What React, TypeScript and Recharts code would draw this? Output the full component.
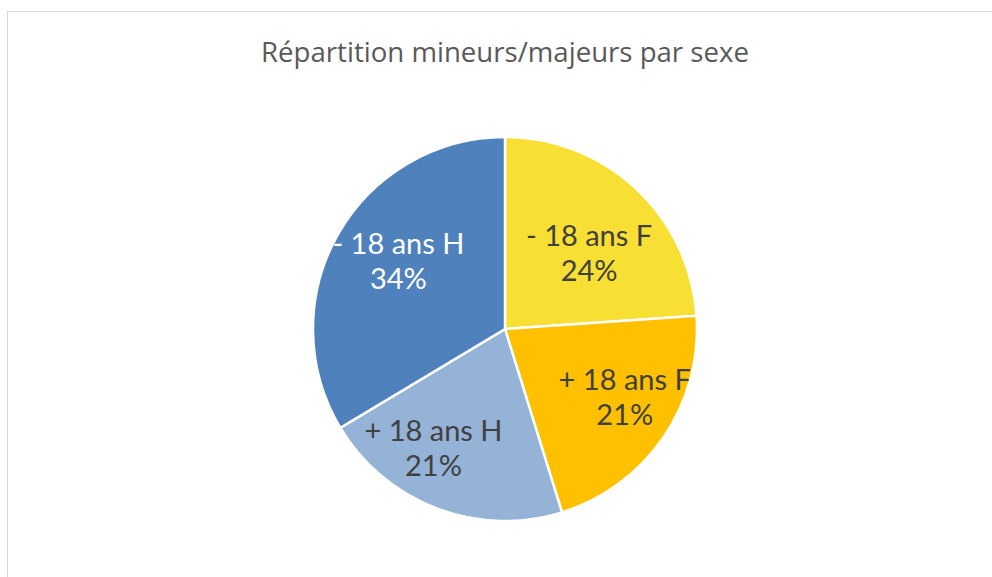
import React from 'react';
import { PieChart, Pie, Cell } from 'recharts';

// slices, clockwise from 12 o'clock
const categories = ['- 18 ans F', '+ 18 ans F', '+ 18 ans H', '- 18 ans H'];
const shares = [23.9, 21.3, 21.2, 33.6];
const colors = ['#F8DF33', '#FFC000', '#95B3D7', '#4F81BD'];
const labelColors = ['#404040', '#404040', '#404040', '#FFFFFF'];

// Excel "best fit" moves labels a bit off the mid-angle line
const labelNudge: Record<string, [number, number]> = {
  '- 18 ans F': [-5, 18],
  '+ 18 ans F': [12, -7],
  '+ 18 ans H': [-25, -4],
  '- 18 ans H': [7, -5]
};

const data = categories.map((name, i) => ({ name, value: shares[i] }));

const RAD = Math.PI / 180;

function renderLabel(props: any) {
  const { cx, cy, midAngle, outerRadius, percent, name, index } = props;
  const r = outerRadius * 0.68;
  const [dx, dy] = labelNudge[name] || [0, 0];
  const x = cx + r * Math.cos(-midAngle * RAD) + dx;
  const y = cy + r * Math.sin(-midAngle * RAD) + dy;
  return (
    <text
      x={x}
      y={y}
      fill={labelColors[index]}
      textAnchor="middle"
      fontFamily="Lato, 'Open Sans', sans-serif"
      fontSize={29}
    >
      <tspan x={x} y={y - 17} dominantBaseline="central">{name}</tspan>
      <tspan x={x} y={y + 18} dominantBaseline="central">{`${Math.round(percent * 100)}%`}</tspan>
    </text>
  );
}

export default function App() {
  return (
    <div style={{ position: 'absolute', left: 0, top: 0, width: 992, height: 577, background: '#fff', overflow: 'hidden' }}>
      <div
        style={{
          position: 'absolute',
          left: 7,
          top: 11,
          width: 1100,
          height: 700,
          border: '1.5px solid #D9D9D9',
          boxSizing: 'border-box'
        }}
      />
      <div
        style={{
          position: 'absolute',
          left: 0,
          top: 32,
          width: 1010,
          textAlign: 'center',
          fontFamily: "'Open Sans', sans-serif",
          fontSize: 27.6,
          color: '#595959',
          lineHeight: '38px'
        }}
      >
        Répartition mineurs/majeurs par sexe
      </div>
      <div style={{ position: 'absolute', left: 0, top: 0 }}>
        <PieChart width={992} height={577} margin={{ top: 0, right: 0, bottom: 0, left: 0 }}>
          <Pie
            data={data}
            dataKey="value"
            nameKey="name"
            cx={505}
            cy={329}
            outerRadius={192}
            startAngle={90}
            endAngle={-270}
            stroke="#FFFFFF"
            strokeWidth={2.5}
            labelLine={false}
            label={renderLabel}
            isAnimationActive={false}
          >
            {data.map((d, i) => (
              <Cell key={d.name} fill={colors[i]} />
            ))}
          </Pie>
        </PieChart>
      </div>
    </div>
  );
}
